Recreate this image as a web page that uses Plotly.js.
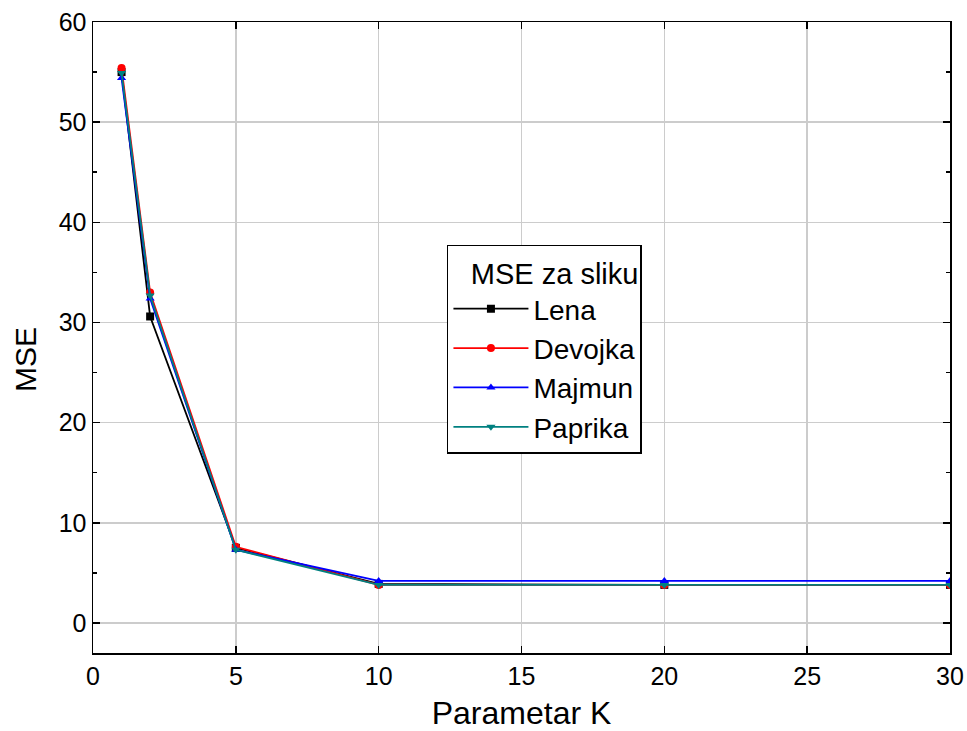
<!DOCTYPE html>
<html>
<head>
<meta charset="utf-8">
<script src="https://cdn.plot.ly/plotly-3.0.1.min.js"></script>
<style>html,body{margin:0;padding:0;background:#fff}#chart{width:967px;height:731px}</style>
</head>
<body>
<div id="chart"></div>
<script>
const K = [1, 2, 5, 10, 20, 30];
const lena    = [55.0, 30.6, 7.5, 3.9, 3.8, 3.8];
const devojka = [55.4, 33.0, 7.6, 3.8, 3.8, 3.8];
const majmun  = [54.4, 32.4, 7.3, 4.2, 4.2, 4.2];
const paprika = [54.9, 32.7, 7.3, 3.8, 3.8, 3.8];
const names = ["Lena", "Devojka", "Majmun", "Paprika"];
const legendTitle = "MSE za sliku";
const xTitle = "Parametar K";
const yTitle = "MSE";

const series = [lena, devojka, majmun, paprika];
const colors = ["#000000", "#ff0000", "#0000ff", "#008080"];
const symbols = ["square", "circle", "triangle-up", "triangle-down"];

const traces = series.map((ys, i) => ({
  x: K, y: ys, name: names[i], type: "scatter", mode: "lines+markers",
  line: {color: colors[i], width: 1.8},
  marker: {color: colors[i], symbol: symbols[i], size: 8}
}));

const fam = "Liberation Sans, Arial, sans-serif";
const layout = {
  width: 967, height: 731,
  margin: {l: 93, r: 17, t: 22, b: 78},
  paper_bgcolor: "#fff", plot_bgcolor: "#fff",
  font: {family: fam, color: "#000"},
  showlegend: true,
  legend: {
    x: 0.413, y: 0.647, xanchor: "left", yanchor: "top",
    bgcolor: "#fff", bordercolor: "#000", borderwidth: 1.5,
    itemwidth: 75, tracegroupgap: 0,
    font: {family: fam, size: 28, color: "#000"},
    title: {text: legendTitle, side: "top right", font: {family: fam, size: 29, color: "#000"}}
  },
  xaxis: {
    range: [0, 30], tickvals: [0, 5, 10, 15, 20, 25, 30],
    ticks: "inside", ticklen: 7, tickwidth: 1.5, tickcolor: "#000",
    showline: true, linecolor: "#000", linewidth: 1.5, mirror: "ticks",
    showgrid: true, gridcolor: "#cccccc", gridwidth: 1.5, zeroline: false,
    tickfont: {family: fam, size: 25, color: "#000"},
    title: {text: xTitle, font: {family: fam, size: 32, color: "#000"}, standoff: 16}
  },
  yaxis: {
    range: [-3, 60], tickvals: [0, 10, 20, 30, 40, 50, 60],
    ticks: "inside", ticklen: 7, tickwidth: 1.5, tickcolor: "#000",
    showline: true, linecolor: "#000", linewidth: 1.5, mirror: "ticks",
    showgrid: true, gridcolor: "#cccccc", gridwidth: 1.5, zeroline: false,
    minor: {dtick: 5, tick0: 5, ticks: "inside", ticklen: 4, tickcolor: "#000", showgrid: false},
    tickfont: {family: fam, size: 25, color: "#000"}
  },
  annotations: [{
    text: yTitle, textangle: -90, showarrow: false,
    xref: "paper", yref: "paper", x: -0.079, y: 0.465,
    xanchor: "center", yanchor: "middle",
    font: {family: fam, size: 30, color: "#000"}
  }]
};

Plotly.newPlot("chart", traces, layout, {displayModeBar: false, staticPlot: true});
</script>
</body>
</html>
